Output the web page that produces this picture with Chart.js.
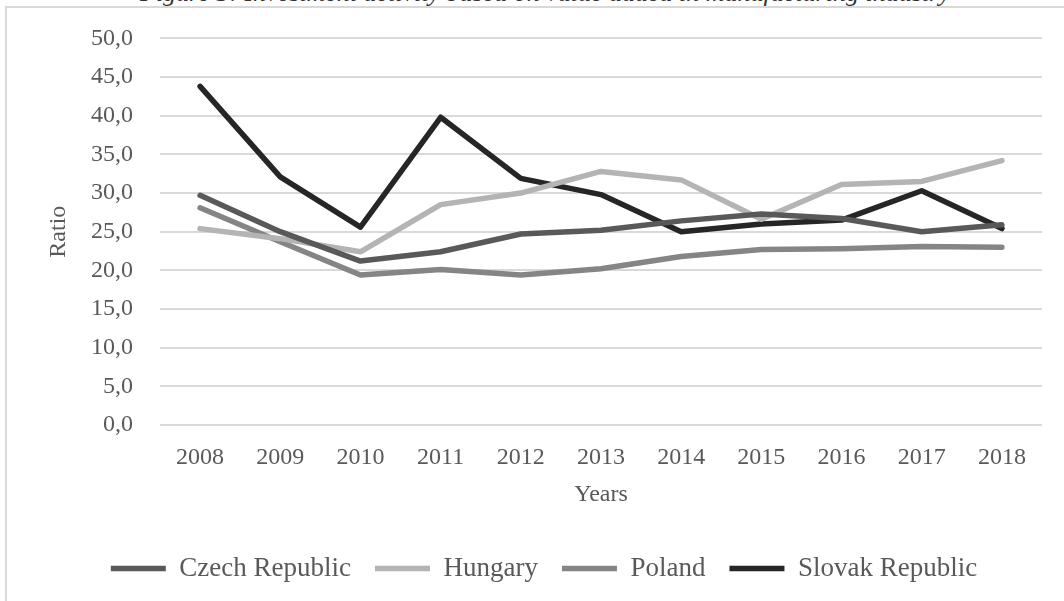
<!DOCTYPE html>
<html>
<head>
<meta charset="utf-8">
<script src="https://cdn.jsdelivr.net/npm/chart.js@4.4.0/dist/chart.umd.min.js"></script>
<style>
  html, body { margin: 0; padding: 0; background: #fff; }
  #wrap { position: relative; width: 1064px; height: 601px; overflow: hidden; }
  #frame { position: absolute; left: 5px; top: 6px; width: 1100px; height: 700px;
           border-left: 2px solid #d9d9d9; border-top: 2px solid #d9d9d9; }
  #caption { position: absolute; left: 140px; top: -22px; width: 810px; text-align: center;
             font: italic 26px "Liberation Serif", serif; color: #333; white-space: nowrap; }
  canvas { position: absolute; left: 0; top: -3px; }
</style>
</head>
<body>
<div id="wrap">
  <div id="caption">Figure 3: Investment activity based on value added in manufacturing industry</div>
  <div id="frame"></div>
  <canvas id="chart" width="1064" height="604"></canvas>
</div>
<script>
// ========== DATA ==========
const years = ['2008', '2009', '2010', '2011', '2012', '2013', '2014', '2015', '2016', '2017', '2018'];
const czech   = [29.7, 25.0, 21.2, 22.4, 24.7, 25.2, 26.4, 27.3, 26.7, 25.0, 25.9];
const hungary = [25.4, 24.1, 22.4, 28.5, 30.0, 32.8, 31.7, 26.6, 31.1, 31.5, 34.2];
const poland  = [28.1, 23.7, 19.4, 20.1, 19.4, 20.2, 21.8, 22.7, 22.8, 23.1, 23.0];
const slovak  = [43.8, 32.1, 25.6, 39.8, 31.9, 29.8, 25.0, 26.0, 26.5, 30.3, 25.4];
const yTicks  = [0, 5, 10, 15, 20, 25, 30, 35, 40, 45, 50];

const serif = '"Liberation Serif", "Times New Roman", serif';
const textGrey = '#595959';

const line = (label, data, color) => ({
  label, data,
  borderColor: color,
  backgroundColor: color,
  borderWidth: 5.5,
  borderCapStyle: 'round',
  borderJoinStyle: 'round',
  pointRadius: 0,
  tension: 0,
  fill: false
});

// legend sits a bit right of the plot centre and a bit higher
const legendNudge = {
  id: 'legendNudge',
  afterLayout(chart) {
    const lg = chart.legend;
    if (!lg) return;
    lg.left += 23; lg.right += 23;
    lg.top -= 9; lg.bottom -= 9;
  }
};

new Chart(document.getElementById('chart'), {
  type: 'line',
  data: {
    labels: years,
    datasets: [
      line('Czech Republic', czech, '#595959'),
      line('Hungary', hungary, '#b4b4b4'),
      line('Poland', poland, '#858585'),
      line('Slovak Republic', slovak, '#262626')
    ]
  },
  plugins: [legendNudge],
  options: {
    responsive: false,
    animation: false,
    layout: { padding: { top: 34, right: 22, left: 0, bottom: 0 } },
    plugins: {
      tooltip: { enabled: false },
      legend: {
        position: 'bottom',
        labels: {
          usePointStyle: true,
          pointStyle: 'line',
          pointStyleWidth: 55,
          padding: 24,
          color: textGrey,
          font: { family: serif, size: 27 }
        }
      }
    },
    scales: {
      x: {
        offset: true,
        grid: { display: false },
        border: { display: false },
        ticks: { color: textGrey, font: { family: serif, size: 24 }, padding: 10, maxRotation: 0 },
        title: { display: true, text: 'Years', color: textGrey,
                 font: { family: serif, size: 24 }, padding: { top: 0, bottom: 31 } },
        afterFit: s => { s.height = 115; }
      },
      y: {
        min: 0,
        max: 50,
        afterBuildTicks: s => { s.ticks = yTicks.map(v => ({ value: v })); },
        grid: { color: '#d9d9d9', lineWidth: 2, drawTicks: false },
        border: { display: false },
        ticks: {
          color: textGrey,
          font: { family: serif, size: 24 },
          padding: 27,
          callback: v => v.toFixed(1).replace('.', ',')
        },
        title: { display: true, text: 'Ratio', color: textGrey,
                 font: { family: serif, size: 24 }, padding: { top: 44, bottom: 0 } },
        afterFit: s => { s.width = 160; }
      }
    }
  }
});
</script>
</body>
</html>
